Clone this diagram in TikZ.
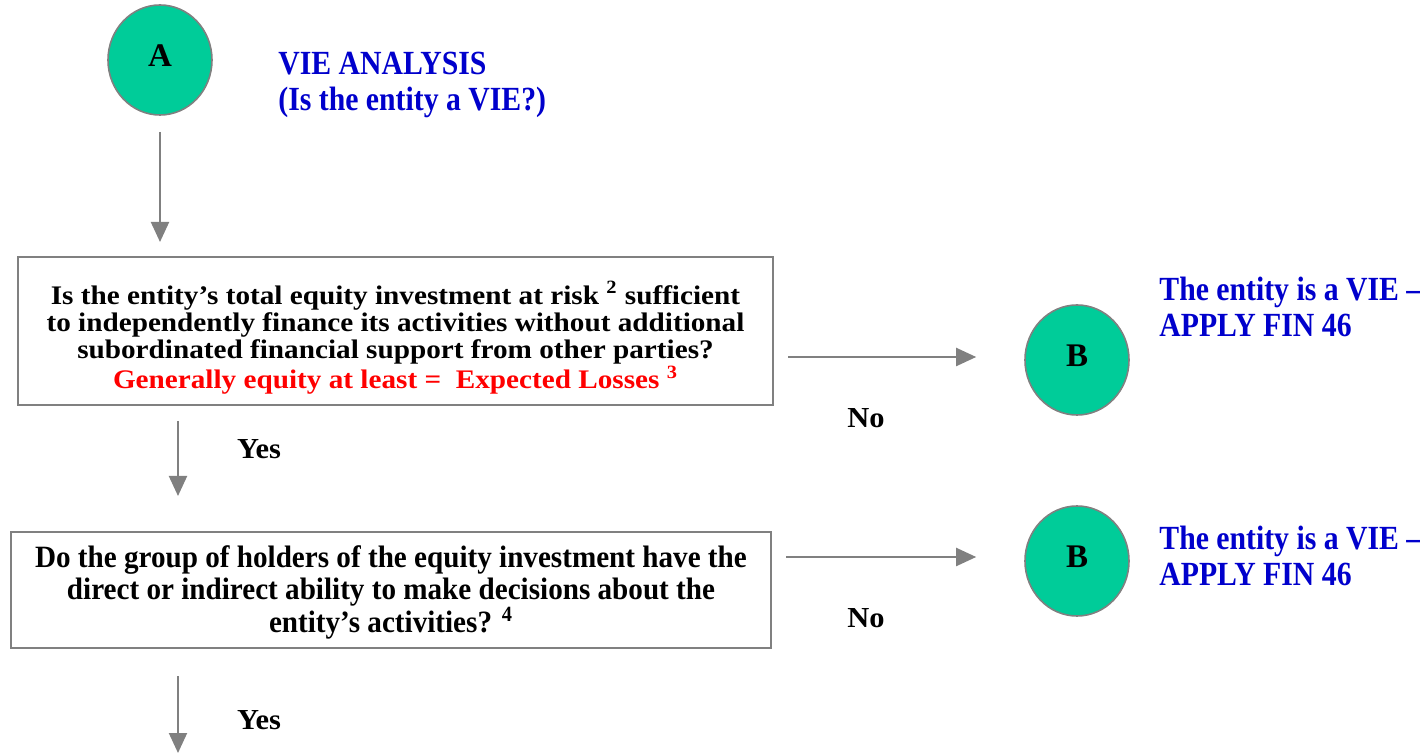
\documentclass[tikz,border=0pt]{standalone}
\usepackage{fontspec}
\setmainfont[FakeStretch=0.88]{Liberation Serif}
\newfontfamily\plainfont{Liberation Serif}
\newfontfamily\qafont[FakeStretch=1.09]{Liberation Serif}
\newfontfamily\qbfont[FakeStretch=0.94]{Liberation Serif}
\newfontfamily\lblfont[FakeStretch=1.05]{Liberation Serif}
\usetikzlibrary{shapes.geometric,arrows.meta}
\definecolor{vgreen}{RGB}{0,204,153}
\definecolor{vblue}{RGB}{0,0,204}
\definecolor{vgray}{RGB}{128,128,128}
\begin{document}
\begin{tikzpicture}[x=0.5pt, y=-0.5pt, font=\bfseries,
    main/.style = {draw=vgray, line width=0.8pt, ellipse, fill=vgreen, inner sep=0pt,
        minimum width=52pt, minimum height=55pt, text depth=4pt,
        font=\plainfont\bfseries\fontsize{16.5}{18}\selectfont},
    qbox/.style = {draw=vgray, line width=1pt, rectangle, inner sep=0pt},
    qtext/.style = {align=center, inner sep=0pt},
    note/.style = {text=vblue, align=left, anchor=west, inner sep=0pt,
        font=\bfseries\fontsize{16.9}{18}\selectfont},
    lbl/.style = {inner sep=0pt, font=\lblfont\bfseries\fontsize{14.5}{16}\selectfont},
    flow/.style = {draw=vgray, line width=1pt, -{Triangle[length=10pt,width=9pt]}}]
    \useasboundingbox (0,0) rectangle (1420,753);

    \node[main] (A) at (160,60) {A};
    \node[note] (title) at (278,85) {VIE ANALYSIS\\(Is the entity a VIE?)};

    % first question
    \node[qbox, minimum width=377.5pt, minimum height=74pt] (q1) at (395.5,331) {};
    \node[qtext, font=\qafont\bfseries\fontsize{13.4}{13.5}\selectfont] (q1t)
        at ([yshift=-3.5pt]q1.center)
        {Is the entity’s total equity investment at risk \textsuperscript{2} sufficient\\
         to independently finance its activities without additional\\
         subordinated financial support from other parties?\\
         \textcolor{red}{Generally equity at least =\ \ Expected Losses \textsuperscript{3}}};

    % second question
    \node[qbox, minimum width=380pt, minimum height=58pt] (q2) at (391,590) {};
    \node[qtext, font=\qbfont\bfseries\fontsize{15.5}{16.25}\selectfont] (q2t)
        at ([yshift=-1pt]q2.center)
        {Do the group of holders of the equity investment have the\\
         direct or indirect ability to make decisions about the\\
         entity’s activities? \textsuperscript{4}};

    \node[main] (B1) at (1077,360) {B};
    \node[main] (B2) at (1077,561) {B};
    \node[note] (vie1) at (1159,306.5) {The entity is a VIE –\\APPLY FIN 46};
    \node[note] (vie2) at (1159,555.5) {The entity is a VIE –\\APPLY FIN 46};

    \node[lbl] (yes1) at (259,449) {Yes};
    \node[lbl] (yes2) at (259,720) {Yes};
    \node[lbl] (no1) at (866,418) {No};
    \node[lbl] (no2) at (866,618) {No};

    \coordinate (out) at (178,753);

    \draw[flow, shorten <=8pt, shorten >=7pt] (A) -- (A |- q1.north);
    \draw[flow, shorten <=7.5pt, shorten >=17.5pt] (q1.south -| out) -- (q2.north -| out);
    \draw[flow, shorten <=13.5pt] (q2.south -| out) -- (out);

    \draw[flow, shorten <=7pt, shorten >=24pt] ([yshift=1.5pt]q1.east |- B1) -- ([yshift=1.5pt]B1.west);
    \draw[flow, shorten <=7pt, shorten >=24pt] ([yshift=2pt]q2.east |- B2) -- ([yshift=2pt]B2.west);

\end{tikzpicture}
\end{document}
